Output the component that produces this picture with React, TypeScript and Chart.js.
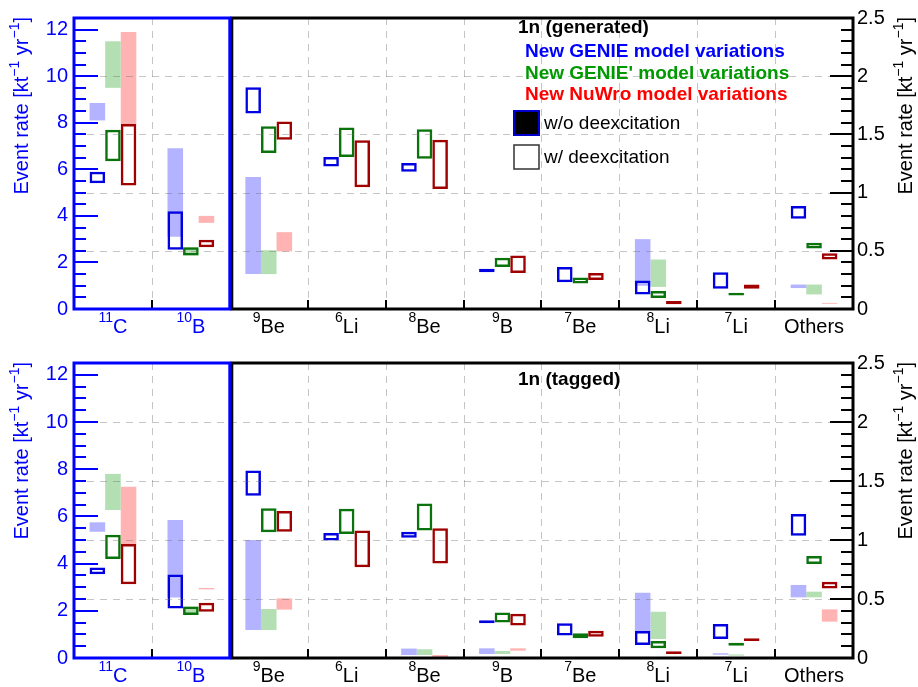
import React, { useEffect, useRef } from 'react';
import { Chart, registerables } from 'chart.js';

Chart.register(...registerables);

const FONT = '"Liberation Sans", Arial, Helvetica, sans-serif';

// ---- categories ----
const categories = ['11C', '10B', '9Be', '6Li', '8Be', '9B', '7Be', '8Li', '7Li', 'Others'];
const massNumbers = ['11', '10', '9', '6', '8', '9', '7', '8', '7', ''];
const elementSymbols = ['C', 'B', 'Be', 'Li', 'Be', 'B', 'Be', 'Li', 'Li', 'Others'];
// first two categories use the left axis (0-12.5), the rest use the right axis (0-2.5)
const leftAxisCount = 2;
const leftAxisMax = 12.5;
const leftAxisStep = 2;
const leftMinorStep = 0.5;
const rightAxisMax = 2.5;
const rightAxisStep = 0.5;
const rightMinorStep = 0.1;

type Range = [number, number] | null;

// ---- 1n (generated) ----
const genGenieWo: Range[] = [[8.1, 8.85], [3.1, 6.9], [0.3, 1.135], null, null, null, null, [0.2, 0.6], null, [0.18, 0.21]];
const genGenieW: Range[] = [[5.4, 5.9], [2.55, 4.2], [1.68, 1.905], [1.225, 1.305], [1.18, 1.255], [0.315, 0.345], [0.23, 0.36], [0.125, 0.245], [0.175, 0.315], [0.775, 0.885]];
const genGeniePWo: Range[] = [[9.5, 11.5], [2.3, 2.65], [0.3, 0.505], null, null, null, null, [0.19, 0.425], null, [0.125, 0.21]];
const genGeniePW: Range[] = [[6.35, 7.7], [2.3, 2.65], [1.34, 1.57], [1.305, 1.56], [1.29, 1.545], [0.36, 0.44], [0.22, 0.27], [0.095, 0.155], [0.115, 0.14], [0.52, 0.57]];
const genNuWroWo: Range[] = [[7.95, 11.9], [3.7, 4.0], [0.495, 0.66], null, null, null, null, null, null, [0.045, 0.052]];
const genNuWroW: Range[] = [[5.3, 7.95], [2.65, 2.98], [1.455, 1.61], [1.045, 1.45], [1.03, 1.455], [0.31, 0.46], [0.25, 0.31], [0.04, 0.068], [0.175, 0.21], [0.425, 0.48]];

// ---- 1n (tagged) ----
const tagGenieWo: Range[] = [[5.35, 5.75], [2.56, 5.85], [0.237, 1.0], null, [0.025, 0.08], [0.034, 0.082], null, [0.223, 0.553], [0.028, 0.04], [0.514, 0.619]];
const tagGenieW: Range[] = [[3.55, 3.83], [2.1, 3.54], [1.375, 1.59], [0.995, 1.06], [1.02, 1.07], [0.295, 0.32], [0.19, 0.295], [0.11, 0.229], [0.161, 0.288], [1.036, 1.22]];
const tagGeniePWo: Range[] = [[6.27, 7.8], [1.82, 2.18], [0.237, 0.415], null, [0.025, 0.074], [0.034, 0.06], null, [0.161, 0.392], [0.02, 0.03], [0.514, 0.562]];
const tagGeniePW: Range[] = [[4.2, 5.22], [1.82, 2.18], [1.065, 1.27], [1.05, 1.265], [1.08, 1.31], [0.3, 0.385], [0.167, 0.21], [0.082, 0.144], [0.104, 0.13], [0.797, 0.864]];
const tagNuWroWo: Range[] = [[4.83, 7.26], [2.91, 2.97], [0.41, 0.505], null, [0.006, 0.025], [0.062, 0.082], null, null, null, [0.308, 0.412]];
const tagNuWroW: Range[] = [[3.12, 4.83], [1.96, 2.34], [1.07, 1.245], [0.77, 1.08], [0.8, 1.1], [0.275, 0.375], [0.18, 0.23], [0.034, 0.057], [0.144, 0.167], [0.59, 0.647]];

const seriesNames = ['New GENIE model variations', "New GENIE' model variations", 'New NuWro model variations'];
const seriesText = ['#0000ff', '#009a00', '#ff0000'];
const openColors = ['#0000e0', '#0b730b', '#a00000'];
const fillColors = ['#b3b3ff', '#b3dfb3', '#ffb3b3'];
const stackIds = ['genie', 'geniep', 'nuwro'];

function buildDatasets(open: Range[][], filled: Range[][]) {
  const out: any[] = [];
  const split = (arr: Range[], left: boolean) => arr.map((v, i) => ((i < leftAxisCount) === left ? v : null));
  // open boxes first so they are drawn on top
  for (const left of [true, false]) {
    open.forEach((arr, s) => {
      out.push({
        label: seriesNames[s] + ' (w/ deexcitation)',
        data: split(arr, left),
        yAxisID: left ? 'yL' : 'yR',
        stack: stackIds[s],
        backgroundColor: 'rgba(0,0,0,0)',
        borderColor: openColors[s],
        borderWidth: 2.5,
        borderSkipped: false,
      });
    });
  }
  for (const left of [true, false]) {
    filled.forEach((arr, s) => {
      out.push({
        label: seriesNames[s] + ' (w/o deexcitation)',
        data: split(arr, left),
        yAxisID: left ? 'yL' : 'yR',
        stack: stackIds[s],
        backgroundColor: fillColors[s],
        borderWidth: 0,
        borderSkipped: false,
      });
    });
  }
  return out;
}

function drawRich(ctx: CanvasRenderingContext2D, parts: [string, number, number][], x: number, y: number, align: 'left' | 'right' | 'center', bold = false) {
  const widths = parts.map(([t, s]) => {
    ctx.font = `${bold ? 'bold ' : ''}${s}px ${FONT}`;
    return ctx.measureText(t).width;
  });
  const total = widths.reduce((a, b) => a + b, 0);
  let cx = align === 'left' ? x : align === 'right' ? x - total : x - total / 2;
  ctx.textAlign = 'left';
  ctx.textBaseline = 'alphabetic';
  parts.forEach(([t, s, dy], i) => {
    ctx.font = `${bold ? 'bold ' : ''}${s}px ${FONT}`;
    ctx.fillText(t, cx, y + dy);
    cx += widths[i];
  });
}

function makeOverlay(legendTitle: string, showSeries: boolean, titleDy: number) {
  return {
    id: 'overlay',
    afterDatasetsDraw(chart: any) {
      const ctx: CanvasRenderingContext2D = chart.ctx;
      const a = chart.chartArea;
      const yL = chart.scales.yL;
      const yR = chart.scales.yR;
      const n = categories.length;
      const cw = (a.right - a.left) / n;
      const xb = a.left + leftAxisCount * cw;
      ctx.save();

      // dashed grid
      ctx.strokeStyle = 'rgba(110,110,110,0.4)';
      ctx.lineWidth = 1;
      ctx.setLineDash([7, 6]);
      ctx.beginPath();
      for (let i = 1; i < n; i++) {
        if (i === leftAxisCount) continue;
        const x = Math.round(a.left + i * cw) + 0.5;
        ctx.moveTo(x, a.top);
        ctx.lineTo(x, a.bottom);
      }
      yR.ticks.forEach((t: any) => {
        if (t.value <= 0 || t.value >= rightAxisMax) return;
        const y = Math.round(yR.getPixelForValue(t.value)) + 0.5;
        ctx.moveTo(a.left, y);
        ctx.lineTo(a.right, y);
      });
      ctx.stroke();
      ctx.setLineDash([]);

      // left axis ticks (inside)
      ctx.strokeStyle = '#0000ff';
      ctx.lineWidth = 2;
      ctx.beginPath();
      for (let k = 1; k * leftMinorStep < leftAxisMax - 1e-6; k++) {
        const v = k * leftMinorStep;
        const major = Math.abs(v / leftAxisStep - Math.round(v / leftAxisStep)) < 1e-6;
        const y = Math.round(yL.getPixelForValue(v));
        ctx.moveTo(a.left, y);
        ctx.lineTo(a.left + (major ? 24 : 12), y);
      }
      ctx.stroke();

      // right axis ticks (inside)
      ctx.strokeStyle = '#000';
      ctx.beginPath();
      for (let k = 1; k * rightMinorStep < rightAxisMax - 1e-6; k++) {
        const v = k * rightMinorStep;
        const major = Math.abs(v / rightAxisStep - Math.round(v / rightAxisStep)) < 1e-6;
        const y = Math.round(yR.getPixelForValue(v));
        ctx.moveTo(a.right, y);
        ctx.lineTo(a.right - (major ? 23 : 12), y);
      }
      ctx.stroke();

      // bottom ticks at category boundaries
      ctx.beginPath();
      for (let i = 1; i < n; i++) {
        if (i === leftAxisCount) continue;
        const x = Math.round(a.left + i * cw);
        ctx.moveTo(x, a.bottom);
        ctx.lineTo(x, a.bottom - 9);
      }
      ctx.stroke();

      // frames
      ctx.lineWidth = 3;
      ctx.strokeStyle = '#000';
      ctx.strokeRect(xb + 2, a.top, a.right - xb - 2, a.bottom - a.top);
      ctx.strokeStyle = '#0000ff';
      ctx.strokeRect(a.left, a.top, xb - a.left, a.bottom - a.top);

      // category labels
      for (let i = 0; i < n; i++) {
        const cx = a.left + (i + 0.5) * cw;
        ctx.fillStyle = i < leftAxisCount ? '#0000ff' : '#000';
        const parts: [string, number, number][] = [];
        if (massNumbers[i]) parts.push([massNumbers[i], 14, -11]);
        parts.push([elementSymbols[i], 20, 0]);
        drawRich(ctx, parts, cx, a.bottom + 24, 'center');
      }

      // axis titles
      const titleParts: [string, number, number][] = [
        ['Event rate [kt', 20, 0], ['\u22121', 14, -9], [' yr', 20, 0], ['\u22121', 14, -9], [']', 20, 0],
      ];
      ctx.save();
      ctx.translate(28, a.top - 1);
      ctx.rotate(-Math.PI / 2);
      ctx.fillStyle = '#0000ff';
      drawRich(ctx, titleParts, 0, 0, 'right');
      ctx.restore();
      ctx.save();
      ctx.translate(912, a.top - 1);
      ctx.rotate(-Math.PI / 2);
      ctx.fillStyle = '#000';
      drawRich(ctx, titleParts, 0, 0, 'right');
      ctx.restore();

      // legend
      const lx = a.left + 444;
      ctx.fillStyle = '#000';
      ctx.textAlign = 'left';
      ctx.textBaseline = 'alphabetic';
      ctx.font = `bold 19px ${FONT}`;
      ctx.fillText(legendTitle, lx, a.top + titleDy);
      if (showSeries) {
        const offs = [39, 61, 82];
        seriesNames.forEach((s, i) => {
          ctx.fillStyle = seriesText[i];
          ctx.fillText(s, lx + 7, a.top + offs[i]);
        });
        ctx.fillStyle = '#000';
        ctx.fillRect(lx - 4, a.top + 93, 25, 24);
        ctx.strokeStyle = '#0000cc';
        ctx.lineWidth = 2;
        ctx.strokeRect(lx - 4, a.top + 93, 25, 24);
        ctx.fillStyle = '#fff';
        ctx.fillRect(lx - 4, a.top + 127, 25, 24);
        ctx.strokeStyle = '#333';
        ctx.lineWidth = 1.5;
        ctx.strokeRect(lx - 4, a.top + 127, 25, 24);
        ctx.fillStyle = '#000';
        ctx.font = `19px ${FONT}`;
        ctx.fillText('w/o deexcitation', lx + 26, a.top + 111);
        ctx.fillText('w/ deexcitation', lx + 26, a.top + 145);
      }
      ctx.restore();
    },
  };
}

type PanelProps = {
  height: number;
  padTop: number;
  padBottom: number;
  open: Range[][];
  filled: Range[][];
  legendTitle: string;
  showSeries: boolean;
  titleDy: number;
};

function Panel(p: PanelProps) {
  const ref = useRef<HTMLCanvasElement>(null);
  useEffect(() => {
    const chart = new Chart(ref.current as HTMLCanvasElement, {
      type: 'bar',
      data: { labels: categories, datasets: buildDatasets(p.open, p.filled) },
      options: {
        responsive: false,
        animation: false,
        devicePixelRatio: 1,
        layout: { padding: { top: p.padTop, bottom: p.padBottom, left: 0, right: 0 } },
        datasets: { bar: { barPercentage: 1.0, categoryPercentage: 0.6 } },
        plugins: { legend: { display: false }, tooltip: { enabled: false }, title: { display: false } },
        scales: {
          x: { type: 'category', display: false, offset: true },
          yL: {
            type: 'linear', position: 'left', min: 0, max: leftAxisMax, stacked: false,
            grid: { display: false, drawTicks: false }, border: { display: false },
            ticks: { stepSize: leftAxisStep, includeBounds: false, color: '#0000ff', padding: 6, font: { size: 20, family: FONT }, callback: (v: any) => String(v) },
            afterFit: (s: any) => { s.width = 74; },
          },
          yR: {
            type: 'linear', position: 'right', min: 0, max: rightAxisMax, stacked: false,
            grid: { display: false, drawTicks: false }, border: { display: false },
            ticks: { stepSize: rightAxisStep, color: '#000', padding: 4, font: { size: 20, family: FONT }, callback: (v: any) => String(v) },
            afterFit: (s: any) => { s.width = 65; },
          },
        },
      } as any,
      plugins: [makeOverlay(p.legendTitle, p.showSeries, p.titleDy)],
    });
    return () => chart.destroy();
  }, []);
  return <canvas ref={ref} width={918} height={p.height} style={{ display: 'block', width: 918, height: p.height }} />;
}

export default function App() {
  return (
    <div style={{ position: 'absolute', left: 0, top: 0, width: 918, height: 687, background: '#fff' }}>
      <Panel height={343} padTop={14} padBottom={34}
        open={[genGenieW, genGeniePW, genNuWroW]} filled={[genGenieWo, genGeniePWo, genNuWroWo]}
        legendTitle="1n (generated)" showSeries={true} titleDy={14.5} />
      <Panel height={344} padTop={20} padBottom={29}
        open={[tagGenieW, tagGeniePW, tagNuWroW]} filled={[tagGenieWo, tagGeniePWo, tagNuWroWo]}
        legendTitle="1n (tagged)" showSeries={false} titleDy={22} />
    </div>
  );
}
